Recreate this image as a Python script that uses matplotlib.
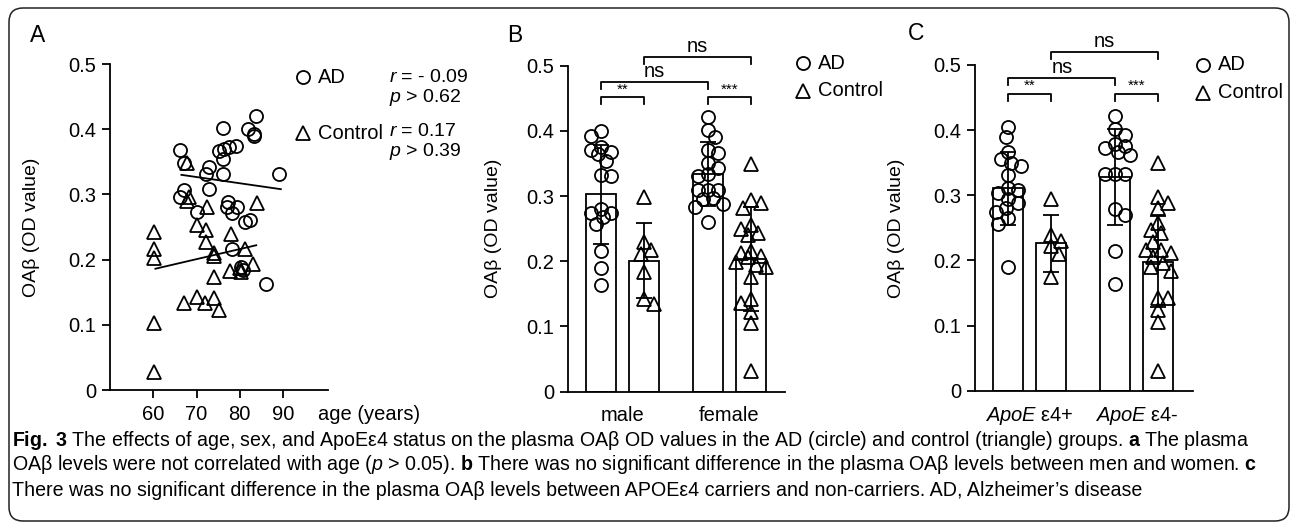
import numpy as np
import matplotlib
matplotlib.use("Agg")
import matplotlib.pyplot as plt
from matplotlib import font_manager
from matplotlib.patches import FancyBboxPatch
from matplotlib.lines import Line2D
from matplotlib.transforms import IdentityTransform

W, H = 1292, 525

# ---- panel A : age vs plasma OAb
ad_age = [83.8, 76.1, 82.0, 83.2, 83.3, 66.1, 79.2, 75.3, 76.4, 77.6, 76.1, 73.0, 67.0, 72.2, 76.1,
          89.0, 67.1, 73.0, 66.1, 70.1, 77.2, 77.0, 79.3, 78.2, 81.2, 82.4, 78.2, 80.4, 80.8, 86.1]
ad_val = [0.420, 0.402, 0.400, 0.392, 0.389, 0.368, 0.374, 0.366, 0.369, 0.372, 0.354, 0.342, 0.348, 0.331, 0.331,
          0.331, 0.307, 0.309, 0.296, 0.273, 0.289, 0.280, 0.281, 0.271, 0.258, 0.261, 0.216, 0.189, 0.184, 0.163]
ctrl_age = [67.7, 68.2, 67.9, 72.4, 83.9, 60.1, 60.1, 60.1, 70.1, 72.2, 72.2, 77.9, 74.1, 74.1, 81.2,
            83.0, 77.8, 80.1, 80.4, 74.1, 67.2, 70.1, 72.0, 74.1, 75.1, 60.1, 60.1]
ctrl_val = [0.348, 0.296, 0.290, 0.280, 0.287, 0.243, 0.216, 0.202, 0.253, 0.246, 0.227, 0.240, 0.210, 0.205, 0.216,
            0.194, 0.183, 0.187, 0.181, 0.174, 0.134, 0.142, 0.134, 0.141, 0.123, 0.103, 0.028]
ad_fit_age = [66.5, 89.5]
ad_fit_val = [0.330, 0.308]
ctrl_fit_age = [60.5, 83.8]
ctrl_fit_val = [0.186, 0.222]

# ---- panel B : sex
sex_labels = ["male", "female"]
male_ad = [0.400, 0.392, 0.375, 0.368, 0.371, 0.365, 0.354, 0.332, 0.331, 0.274, 0.274, 0.280, 0.268, 0.257,
           0.216, 0.189, 0.163]
male_ctrl = [0.298, 0.229, 0.217, 0.211, 0.184, 0.142, 0.135]
female_ad = [0.421, 0.402, 0.390, 0.370, 0.366, 0.350, 0.343, 0.334, 0.331, 0.310, 0.310, 0.310, 0.297, 0.295,
             0.288, 0.283, 0.261]
female_ctrl = [0.349, 0.294, 0.289, 0.281, 0.256, 0.249, 0.244, 0.240, 0.216, 0.213, 0.208, 0.206, 0.199, 0.194,
               0.192, 0.176, 0.142, 0.136, 0.123, 0.106, 0.032]
sex_mean = [0.303, 0.201, 0.334, 0.204]   # male AD, male ctrl, female AD, female ctrl
sex_sd = [0.076, 0.058, 0.049, 0.080]
sex_sig_pairs = [(0, 1), (2, 3), (0, 2), (1, 3)]
sex_sig_y = [0.452, 0.452, 0.475, 0.514]
sex_sig_text = ["**", "***", "ns", "ns"]

# ---- panel C : ApoE e4 status
apoe_labels = [r"$\mathit{ApoE}$ ε4+", r"$\mathit{ApoE}$ ε4-"]
apoe_pos_ad = [0.405, 0.390, 0.367, 0.355, 0.345, 0.350, 0.331, 0.308, 0.303, 0.311, 0.295, 0.288, 0.280, 0.275,
               0.265, 0.256, 0.190]
apoe_pos_ctrl = [0.294, 0.239, 0.230, 0.222, 0.210, 0.175]
apoe_neg_ad = [0.421, 0.401, 0.393, 0.378, 0.375, 0.372, 0.366, 0.362, 0.333, 0.333, 0.333, 0.279, 0.270, 0.215,
               0.164]
apoe_neg_ctrl = [0.349, 0.298, 0.288, 0.280, 0.258, 0.247, 0.242, 0.229, 0.216, 0.216, 0.212, 0.205, 0.196, 0.190,
                 0.183, 0.143, 0.142, 0.124, 0.106, 0.031]
apoe_mean = [0.311, 0.226, 0.328, 0.198]
apoe_sd = [0.056, 0.044, 0.073, 0.070]
apoe_sig_pairs = [(0, 1), (2, 3), (0, 2), (1, 3)]
apoe_sig_y = [0.456, 0.456, 0.480, 0.520]
apoe_sig_text = ["**", "***", "ns", "ns"]

yticks = [0, 0.1, 0.2, 0.3, 0.4, 0.5]
ytick_labels = ["0", "0.1", "0.2", "0.3", "0.4", "0.5"]

caption = [
    r"$\mathbf{Fig.}$ $\mathbf{3}$ The effects of age, sex, and ApoEε4 status on the plasma OAβ OD values in the AD (circle) and control (triangle) groups. $\mathbf{a}$ The plasma",
    r"OAβ levels were not correlated with age ($\mathsf{p}$ > 0.05). $\mathbf{b}$ There was no significant difference in the plasma OAβ levels between men and women. $\mathbf{c}$",
    "There was no significant difference in the plasma OAβ levels between APOEε4 carriers and non-carriers. AD, Alzheimer’s disease",
]


def has_font(name):
    try:
        font_manager.findfont(font_manager.FontProperties(family=name), fallback_to_default=False)
        return True
    except Exception:
        return False


capfont = "Liberation Sans Narrow" if has_font("Liberation Sans Narrow") else "Liberation Sans"

plt.rcParams['font.family'] = ['Liberation Sans', 'DejaVu Sans']
plt.rcParams['mathtext.fontset'] = 'custom'
plt.rcParams['mathtext.rm'] = 'Liberation Sans'
plt.rcParams['mathtext.it'] = 'Liberation Sans:italic'
plt.rcParams['mathtext.bf'] = capfont + ':bold'
plt.rcParams['mathtext.sf'] = capfont + ':italic'
plt.rcParams['font.size'] = 14
LW = 1.3
MS_O = 9.4   # circle marker
MS_T = 10.0  # triangle marker


def fx(x):
    return x / W


def fy(y):
    return 1 - y / H


def new_axes(fig, x0, x1, ytop, ybot):
    ax = fig.add_axes([fx(x0), fy(ybot), (x1 - x0) / W, (ybot - ytop) / H])
    for s in ["top", "right"]:
        ax.spines[s].set_visible(False)
    for s in ["left", "bottom"]:
        ax.spines[s].set_linewidth(LW)
    ax.set_ylim(0, 0.5)
    ax.set_yticks(yticks)
    ax.set_yticklabels(ytick_labels)
    ax.tick_params(axis="y", length=6, width=LW, pad=4, labelsize=14.5)
    ax.set_ylabel("OAβ (OD value)", fontsize=14)
    return ax


def swarm(values, ax, center, diam_px=10.0, half_px=17.0):
    x0, x1 = ax.get_xlim()
    sx = ax.bbox.width / (x1 - x0)
    sy = ax.bbox.height / 0.5
    cands = [0.0]
    for k in range(1, 12):
        cands += [k * 2.5, -k * 2.5]
    cands = [c for c in cands if abs(c) <= half_px]
    placed = []
    offs = np.zeros(len(values))
    for n, i in enumerate(np.argsort(values)[::-1]):
        py = values[i] * sy
        order = cands if n % 2 == 0 else [-c for c in cands]
        best, best_d = 0.0, -1.0
        for c in order:
            d = min([np.hypot(c - qx, py - qy) for qx, qy in placed] + [1e9])
            if d >= diam_px:
                best = c
                break
            if d > best_d:
                best_d, best = d, c
        placed.append((best, py))
        offs[i] = best / sx
    return center + offs


def bar_panel(ax, groups, means, sds, sig_pairs, sig_y, sig_text, labels):
    pos = [0, 1, 2.5, 3.5]
    ax.bar(pos, means, width=0.7, color="white", edgecolor="black", linewidth=LW, zorder=1)
    for p, vals, mk in zip(pos, groups, ["o", "^", "o", "^"]):
        vals = np.asarray(vals)
        ax.plot(swarm(vals, ax, p), vals, linestyle="none", marker=mk, ms=MS_O if mk == "o" else MS_T,
                mfc="none", mec="black", mew=LW, zorder=3)
    ax.errorbar(pos, means, yerr=sds, fmt="none", ecolor="black", elinewidth=LW,
                capsize=6, capthick=LW, zorder=4)
    for (a, b), y, t in zip(sig_pairs, sig_y, sig_text):
        ax.plot([pos[a], pos[a], pos[b], pos[b]], [y - 0.011, y, y, y - 0.011],
                color="black", lw=LW, clip_on=False)
        if t == "ns":
            ax.text((pos[a] + pos[b]) / 2, y + 0.001, t, ha="center", va="bottom", fontsize=14.5)
        else:
            ax.text((pos[a] + pos[b]) / 2, y + 0.001, t, ha="center", va="bottom", fontsize=11)
    ax.set_xticks([0.5, 3.0])
    ax.set_xticklabels(labels)
    ax.tick_params(axis="x", length=0, pad=10, labelsize=14.5)


def legend_marks(fig, x, y_ad, y_ctrl):
    fig.add_artist(Line2D([fx(x)], [fy(y_ad)], linestyle="none", marker="o", ms=MS_O, mfc="none",
                          mec="black", mew=LW, transform=fig.transFigure))
    fig.add_artist(Line2D([fx(x)], [fy(y_ctrl)], linestyle="none", marker="^", ms=MS_T, mfc="none",
                          mec="black", mew=LW, transform=fig.transFigure))
    fig.text(fx(x + 15), fy(y_ad), "AD", va="center", fontsize=14.5)
    fig.text(fx(x + 15), fy(y_ctrl), "Control", va="center", fontsize=14.5)


fig = plt.figure(figsize=(W / 100, H / 100), dpi=100)

# border
fig.add_artist(FancyBboxPatch((9, 4), 1280, 513, boxstyle="round,pad=0,rounding_size=14",
                              transform=IdentityTransform(), facecolor="none",
                              edgecolor="#222222", linewidth=1.1))

# ---- A
axA = new_axes(fig, 110, 328, 64, 390)
axA.set_xlim(50, 100.4)
axA.set_xticks([60, 70, 80, 90])
axA.tick_params(axis="x", length=6, width=LW, pad=5, labelsize=14.5)
axA.plot(ad_age, ad_val, linestyle="none", marker="o", ms=MS_O, mfc="none", mec="black", mew=LW)
axA.plot(ctrl_age, ctrl_val, linestyle="none", marker="^", ms=MS_T, mfc="none", mec="black", mew=LW)
axA.plot(ad_fit_age, ad_fit_val, color="black", lw=LW)
axA.plot(ctrl_fit_age, ctrl_fit_val, color="black", lw=LW)
axA.yaxis.set_label_coords((40 - 110) / 218, 0.5)
axA.set_xlabel("age (years)", fontsize=14.5, ha="left", va="center")
axA.xaxis.set_label_coords((318 - 110) / 218, -0.075)
legend_marks(fig, 302.7, 77, 133)
fig.text(fx(389), fy(77), "$r$ = - 0.09", va="center", fontsize=14)
fig.text(fx(389), fy(98), "$p$ > 0.62", va="center", fontsize=14)
fig.text(fx(389), fy(131), "$r$ = 0.17", va="center", fontsize=14)
fig.text(fx(389), fy(152), "$p$ > 0.39", va="center", fontsize=14)

# ---- B
axB = new_axes(fig, 568.3, 785, 65.7, 391.7)
axB.set_xlim(-0.76, 4.3)
bar_panel(axB, [male_ad, male_ctrl, female_ad, female_ctrl], sex_mean, sex_sd,
          sex_sig_pairs, sex_sig_y, sex_sig_text, sex_labels)
axB.yaxis.set_label_coords(-0.307, 0.5)
legend_marks(fig, 802.7, 63.3, 90.7)

# ---- C
axC = new_axes(fig, 975, 1193.3, 65, 390.7)
axC.set_xlim(-0.78, 4.32)
bar_panel(axC, [apoe_pos_ad, apoe_pos_ctrl, apoe_neg_ad, apoe_neg_ctrl], apoe_mean, apoe_sd,
          apoe_sig_pairs, apoe_sig_y, apoe_sig_text, apoe_labels)
axC.yaxis.set_label_coords(-0.32, 0.5)
legend_marks(fig, 1203.3, 65, 92.7)

# panel letters
for t, x, y in [("A", 37.5, 35.5), ("B", 515, 35), ("C", 916, 33)]:
    fig.text(fx(x), fy(y), t, ha="center", va="center", fontsize=16.5)

# caption, sized so the first line spans the box
cap_texts = []
for i, line in enumerate(caption):
    cap_texts.append(fig.text(fx(12), fy(440 + 25 * i), line, va="center", ha="left",
                              fontsize=15, family=[capfont, "DejaVu Sans"]))
renderer = fig.canvas.get_renderer()
wid = cap_texts[0].get_window_extent(renderer).width
for t in cap_texts:
    t.set_fontsize(15 * 1243 / wid)

fig.savefig("out.png", dpi=100)
